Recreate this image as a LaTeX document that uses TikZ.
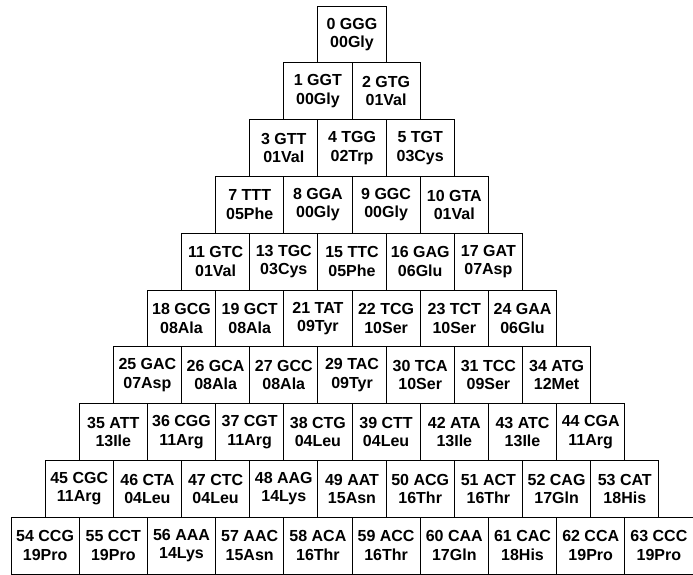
\documentclass[tikz,border=0pt]{standalone}
\usepackage{fontspec}
\setmainfont{Liberation Sans}
\usetikzlibrary{positioning}

\tikzset{
  codon/.style={draw,line width=.9pt,minimum width=68.2pt,minimum height=56.8pt,
    inner sep=0pt,align=center,font=\bfseries\fontsize{16}{18.5}\selectfont}
}

\begin{document}
\begin{tikzpicture}[x=1pt,y=1pt]
  \useasboundingbox (0,0) rectangle (693,-574);
  % one row of the triangle per list entry, top to bottom
  \foreach \row [count=\r from 0] in {
    {0 GGG/00Gly},
    {1 GGT/00Gly, 2 GTG/01Val},
    {3 GTT/01Val, 4 TGG/02Trp, 5 TGT/03Cys},
    {7 TTT/05Phe, 8 GGA/00Gly, 9 GGC/00Gly, 10 GTA/01Val},
    {11 GTC/01Val, 13 TGC/03Cys, 15 TTC/05Phe, 16 GAG/06Glu, 17 GAT/07Asp},
    {18 GCG/08Ala, 19 GCT/08Ala, 21 TAT/09Tyr, 22 TCG/10Ser, 23 TCT/10Ser, 24 GAA/06Glu},
    {25 GAC/07Asp, 26 GCA/08Ala, 27 GCC/08Ala, 29 TAC/09Tyr, 30 TCA/10Ser, 31 TCC/09Ser, 34 ATG/12Met},
    {35 ATT/13Ile, 36 CGG/11Arg, 37 CGT/11Arg, 38 CTG/04Leu, 39 CTT/04Leu, 42 ATA/13Ile, 43 ATC/13Ile, 44 CGA/11Arg},
    {45 CGC/11Arg, 46 CTA/04Leu, 47 CTC/04Leu, 48 AAG/14Lys, 49 AAT/15Asn, 50 ACG/16Thr, 51 ACT/16Thr, 52 CAG/17Gln, 53 CAT/18His},
    {54 CCG/19Pro, 55 CCT/19Pro, 56 AAA/14Lys, 57 AAC/15Asn, 58 ACA/16Thr, 59 ACC/16Thr, 60 CAA/17Gln, 61 CAC/18His, 62 CCA/19Pro, 63 CCC/19Pro}}{
    \foreach \cod/\amino [count=\k from 0] in \row
      \node[codon] (c\r-\k) at ({352-34.1*\r+68.2*\k},{-34.4-56.8*\r}) {\cod\\\amino};
  }
\end{tikzpicture}
\end{document}
